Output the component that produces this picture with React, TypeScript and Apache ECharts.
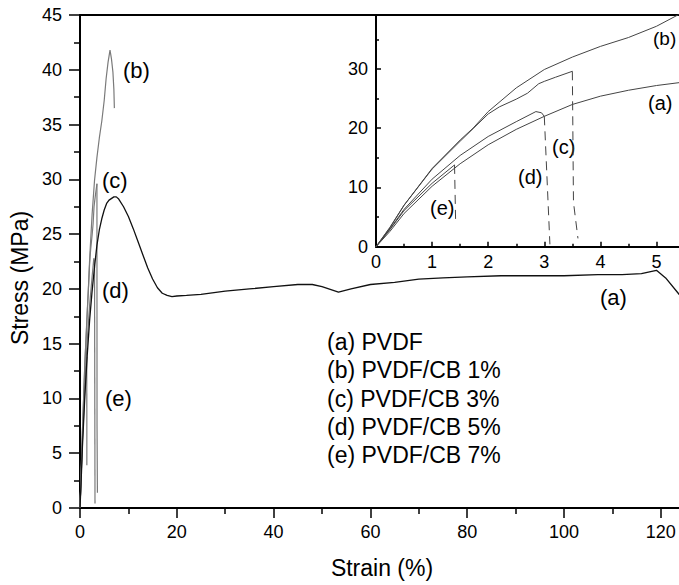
import React, { useEffect, useRef } from "react";
import * as echarts from "echarts";

// (a) PVDF
const strainA = [0, 0.25, 0.5, 1, 1.5, 2, 2.5, 3, 3.5, 4, 4.5, 5, 5.5, 6, 7, 7.5, 8, 9, 10, 11, 12, 13, 14, 15, 16, 17, 18, 19, 20, 22, 25, 30, 35, 40, 45, 48, 50, 53.4, 56, 60, 65, 70, 75, 80, 87, 95, 100, 107, 112, 116, 119.1, 121, 123.6, 125];
const stressA = [0, 2.6, 5.6, 10.2, 14.0, 17.2, 19.8, 22.0, 24.0, 25.4, 26.4, 27.2, 27.8, 28.1, 28.4, 28.4, 28.2, 27.5, 26.6, 25.5, 24.3, 23.1, 21.9, 20.9, 20.1, 19.6, 19.4, 19.3, 19.35, 19.4, 19.5, 19.8, 20.0, 20.2, 20.4, 20.4, 20.2, 19.7, 20.0, 20.4, 20.6, 20.9, 21.0, 21.1, 21.2, 21.2, 21.2, 21.3, 21.3, 21.4, 21.7, 21.0, 19.6, 18.8];

// (b) PVDF/CB 1%
const strainB = [0, 0.25, 0.5, 1, 1.5, 1.73, 2, 2.5, 3, 3.5, 4, 4.5, 5, 5.4, 5.8, 6.2, 6.5, 6.8, 7.0, 7.1];
const stressB = [0, 3.2, 7.0, 13.2, 18.0, 20.0, 22.8, 26.8, 29.9, 32.0, 33.8, 35.3, 37.2, 39.2, 40.7, 41.8, 41.0, 39.8, 38.2, 36.5];

// (c) PVDF/CB 3%
const strainC = [0, 0.25, 0.5, 1, 1.5, 2, 2.2, 2.5, 2.7, 2.9, 3.0, 3.2, 3.5];
const stressC = [0, 3.3, 7.0, 13.1, 17.8, 22.4, 23.6, 24.9, 25.9, 27.5, 27.9, 28.6, 29.6];
const dropStrainC = [3.5, 3.52, 3.6];
const dropStressC = [29.6, 7.5, 1.4];

// (d) PVDF/CB 5%
const strainD = [0, 0.25, 0.5, 1, 1.5, 2, 2.5, 2.85, 2.95, 3.0];
const stressD = [0, 3.0, 6.3, 11.4, 15.4, 18.6, 21.1, 22.8, 22.6, 22.0];
const dropStrainD = [3.0, 3.1];
const dropStressD = [22.0, 0.4];

// (e) PVDF/CB 7%
const strainE = [0, 0.25, 0.5, 1, 1.4];
const stressE = [0, 2.9, 6.1, 10.7, 13.8];
const dropStrainE = [1.4, 1.42];
const dropStressE = [13.8, 3.9];

const legendLines = ["(a) PVDF", "(b) PVDF/CB 1%", "(c) PVDF/CB 3%", "(d) PVDF/CB 5%", "(e) PVDF/CB 7%"];
const curveTags = ["(a)", "(b)", "(c)", "(d)", "(e)"];

const FONT = '"Liberation Sans", Arial, Helvetica, sans-serif';

const zip = (xs: number[], ys: number[]) => xs.map((x, i) => [x, ys[i]]);

export default function App() {
  const ref = useRef<HTMLDivElement>(null);
  useEffect(() => {
    if (!ref.current) return;
    const chart = echarts.init(ref.current, null, { renderer: "svg" });

    const mainLine = (data: number[][], color: string, width: number) => ({
      type: "line", xAxisIndex: 0, yAxisIndex: 0, data, showSymbol: false, symbol: "none",
      lineStyle: { color, width }, silent: true, z: 3,
    });
    const insetLine = (data: number[][], dashed = false) => ({
      type: "line", xAxisIndex: 2, yAxisIndex: 1, data, showSymbol: false, symbol: "none",
      lineStyle: { color: "#444", width: 1, type: dashed ? [9, 6] : "solid" }, silent: true, z: 3,
    });

    const grey = "#7a7a7a";
    const axisLineStyle = { color: "#000", width: 2 };
    const labelStyle = { color: "#000", fontSize: 18, fontFamily: FONT };

    const tag = (text: string, x: number, y: number, size: number) => ({
      type: "text", x, y, silent: true,
      style: { text, fill: "#000", fontSize: size, fontFamily: FONT, align: "left", verticalAlign: "middle" },
    });

    const option: any = {
      animation: false,
      backgroundColor: "#fff",
      grid: [
        { left: 80, top: 15, width: 629.2, height: 493, outerBoundsMode: "none", containLabel: false },
        { left: 376, top: 15, width: 336.6, height: 231.7, outerBoundsMode: "none", containLabel: false },
      ],
      xAxis: [
        {
          type: "value", gridIndex: 0, position: "bottom", min: 0, max: 130, interval: 20,
          axisLine: { show: true, onZero: false, lineStyle: axisLineStyle },
          axisTick: { show: true, inside: false, length: 10, lineStyle: { color: "#000", width: 1.5 } },
          minorTick: { show: true, splitNumber: 2, length: 6, lineStyle: { color: "#000", width: 1.5 } },
          axisLabel: { ...labelStyle, margin: 15, showMaxLabel: false },
          splitLine: { show: false },
        },
        {
          type: "value", gridIndex: 0, position: "top", min: 0, max: 130,
          axisLine: { show: true, onZero: false, lineStyle: axisLineStyle },
          axisTick: { show: false }, axisLabel: { show: false }, splitLine: { show: false },
        },
        {
          type: "value", gridIndex: 1, position: "bottom", min: 0, max: 6, interval: 1,
          axisLine: { show: true, onZero: false, lineStyle: axisLineStyle },
          axisTick: { show: true, inside: true, length: 5, lineStyle: { color: "#000", width: 1.5 } },
          minorTick: { show: true, splitNumber: 2, length: 3, lineStyle: { color: "#000", width: 1.5 } },
          axisLabel: { ...labelStyle, margin: 6, showMaxLabel: false },
          splitLine: { show: false },
        },
      ],
      yAxis: [
        {
          type: "value", gridIndex: 0, min: 0, max: 45, interval: 5,
          axisLine: { show: true, onZero: false, lineStyle: axisLineStyle },
          axisTick: { show: true, inside: false, length: 11, lineStyle: { color: "#000", width: 1.5 } },
          minorTick: { show: true, splitNumber: 2, length: 6, lineStyle: { color: "#000", width: 1.5 } },
          axisLabel: { ...labelStyle, margin: 18 },
          splitLine: { show: false },
        },
        {
          type: "value", gridIndex: 1, min: 0, max: 39.1, interval: 10,
          axisLine: { show: true, onZero: false, lineStyle: axisLineStyle },
          axisTick: { show: true, inside: true, length: 5, lineStyle: { color: "#000", width: 1.5 } },
          minorTick: { show: true, splitNumber: 2, length: 3, lineStyle: { color: "#000", width: 1.5 } },
          axisLabel: { ...labelStyle, margin: 8, showMaxLabel: false },
          splitLine: { show: false },
        },
      ],
      series: [
        mainLine(zip(strainB, stressB), grey, 1.2),
        mainLine(zip(strainC, stressC), grey, 1.2),
        mainLine(zip(dropStrainC, dropStressC), grey, 1.2),
        mainLine(zip(strainD, stressD), grey, 1.2),
        mainLine(zip(dropStrainD, dropStressD), grey, 1.2),
        mainLine(zip(strainE, stressE), grey, 1.2),
        mainLine(zip(dropStrainE, dropStressE), grey, 1.2),
        mainLine(zip(strainA, stressA), "#111", 1.3),
        insetLine(zip(strainA, stressA)),
        insetLine(zip(strainB, stressB)),
        insetLine(zip(strainC, stressC)),
        insetLine(zip(dropStrainC, dropStressC), true),
        insetLine(zip(strainD, stressD)),
        insetLine(zip(dropStrainD, dropStressD), true),
        insetLine(zip(strainE, stressE)),
        insetLine(zip(dropStrainE, dropStressE), true),
      ],
      graphic: [
        {
          type: "text", x: 20, y: 278, rotation: Math.PI / 2, silent: true,
          style: { text: "Stress (MPa)", fill: "#000", fontSize: 23, fontFamily: FONT, align: "center", verticalAlign: "middle" },
        },
        {
          type: "text", x: 382, y: 568, silent: true,
          style: { text: "Strain (%)", fill: "#000", fontSize: 23, fontFamily: FONT, align: "center", verticalAlign: "middle" },
        },
        ...legendLines.map((t, i) => tag(t, 327, 342 + i * 28.3, 23)),
        tag(curveTags[1], 123, 70, 22),
        tag(curveTags[2], 102, 180, 22),
        tag(curveTags[3], 102, 290, 22),
        tag(curveTags[4], 105, 398, 22),
        tag(curveTags[0], 600, 297, 22),
        tag(curveTags[1], 653, 38, 19),
        tag(curveTags[0], 648, 103, 20),
        tag(curveTags[2], 552, 147, 20),
        tag(curveTags[3], 518, 177, 20),
        tag(curveTags[4], 430, 208, 20),
      ],
    };
    chart.setOption(option);
    return () => chart.dispose();
  }, []);
  return (
    <div
      ref={ref}
      style={{ position: "absolute", left: 0, top: 0, width: 679, height: 585, background: "#fff" }}
    />
  );
}
